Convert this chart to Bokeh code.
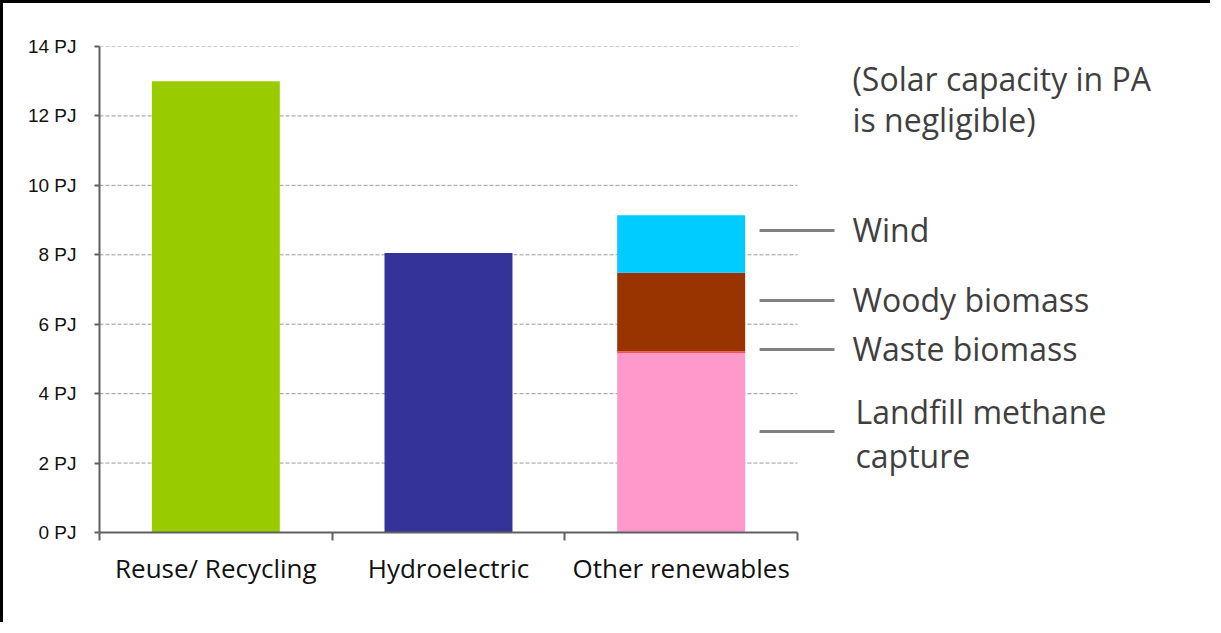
from bokeh.plotting import figure
from bokeh.models import Range1d, FixedTicker
from bokeh.core.properties import value
from bokeh.embed import file_html
from bokeh.resources import INLINE

# ---- data ----
categories = ["Reuse/ Recycling", "Hydroelectric", "Other renewables"]
single_values = [13.0, 8.05]
single_colors = ["#99CC00", "#333399"]
stack_names = ["Landfill methane capture", "Waste biomass", "Woody biomass", "Wind"]
stack_values = [5.17, 0.05, 2.26, 1.66]
stack_colors = ["#FF99CC", "#FF5050", "#993300", "#00CCFF"]
y_ticks = [0, 2, 4, 6, 8, 10, 12, 14]
y_tick_labels = ["0 PJ", "2 PJ", "4 PJ", "6 PJ", "8 PJ", "10 PJ", "12 PJ", "14 PJ"]

# annotation texts and their label heights (data units)
label_texts = ["Wind", "Woody biomass", "Waste biomass"]
label_y = [8.72, 6.70, 5.29]
leader_y = [8.70, 6.68, 5.27, 2.91]
note_lines = ["(Solar capacity in PA", "is negligible)"]
note_y = [13.08, 11.90]
landfill_lines = ["Landfill methane", "capture"]
landfill_y = [3.48, 2.21]

W, H = 1210, 622
p = figure(width=W, height=H, output_backend="svg", toolbar_location=None,
           x_range=Range1d(0, 1114 / 232.67), y_range=Range1d(0, 14),
           min_border_left=96, min_border_right=0, min_border_top=43,
           min_border_bottom=93)
p.outline_line_color = None
p.xgrid.visible = False
p.ygrid.visible = False
p.styles = {"border-left": "3px solid black", "border-top": "3px solid black"}

centers = [i + 0.5 for i in range(len(categories))]
bw = 0.55

# gridlines
gx0 = [0] * (len(y_ticks) - 1)
gx1 = [len(categories)] * (len(y_ticks) - 1)
p.segment(x0=gx0, x1=gx1, y0=y_ticks[1:], y1=y_ticks[1:], line_color="#9a9a9a",
          line_width=1, line_dash="4 2")

# single bars
p.vbar(x=centers[:2], top=single_values, width=bw, bottom=0, fill_color=single_colors,
       line_color=None)

# stacked bar
bottoms, tops = [], []
acc = 0
for v in stack_values:
    bottoms.append(acc)
    acc += v
    tops.append(acc)
p.vbar(x=[centers[2]] * len(stack_values), bottom=bottoms, top=tops, width=bw,
       fill_color=stack_colors, line_color=None)

# leader lines
lx0, lx1 = 2.837, 3.159
p.segment(x0=[lx0] * 4, x1=[lx1] * 4, y0=leader_y, y1=leader_y, line_color="#808080",
          line_width=3)

font = value("Open Sans")
tx = 3.236
p.text(x=[tx] * 3, y=label_y, text=label_texts, text_font=font, text_font_size="32px",
       text_color="#3f3f3f", text_baseline="middle", text_align="left")
p.text(x=[3.249] * 2, y=landfill_y, text=landfill_lines, text_font=font,
       text_font_size="32px", text_color="#3f3f3f", text_baseline="middle", text_align="left")
p.text(x=[tx] * 2, y=note_y, text=note_lines, text_font=font, text_font_size="32px",
       text_color="#3f3f3f", text_baseline="middle", text_align="left")

# y axis
ya = p.yaxis[0]
ya.ticker = FixedTicker(ticks=y_ticks)
ya.major_label_overrides = {t: l for t, l in zip(y_ticks, y_tick_labels)}
ya.bounds = (0, 14)
ya.axis_line_color = "#606060"
ya.axis_line_width = 2
ya.major_tick_line_color = "#606060"
ya.major_tick_line_width = 2
ya.major_tick_out = 5
ya.major_tick_in = 0
ya.minor_tick_line_color = None
ya.major_label_standoff = 18
ya.major_label_text_font = "Liberation Sans"
ya.major_label_text_font_size = "19px"
ya.major_label_text_color = "#111111"

# x axis
xa = p.xaxis[0]
xa.ticker = FixedTicker(ticks=centers, minor_ticks=list(range(len(categories) + 1)))
xa.major_label_overrides = {c: n for c, n in zip(centers, categories)}
xa.bounds = (0, len(categories))
xa.axis_line_color = "#606060"
xa.axis_line_width = 2
xa.major_tick_line_color = None
xa.minor_tick_line_color = "#606060"
xa.minor_tick_line_width = 2
xa.minor_tick_out = 8
xa.minor_tick_in = 0
xa.major_label_standoff = 9
xa.major_label_text_font = "Open Sans"
xa.major_label_text_font_size = "26px"
xa.major_label_text_color = "#111111"

open("out.html", "w").write(file_html(p, INLINE))
